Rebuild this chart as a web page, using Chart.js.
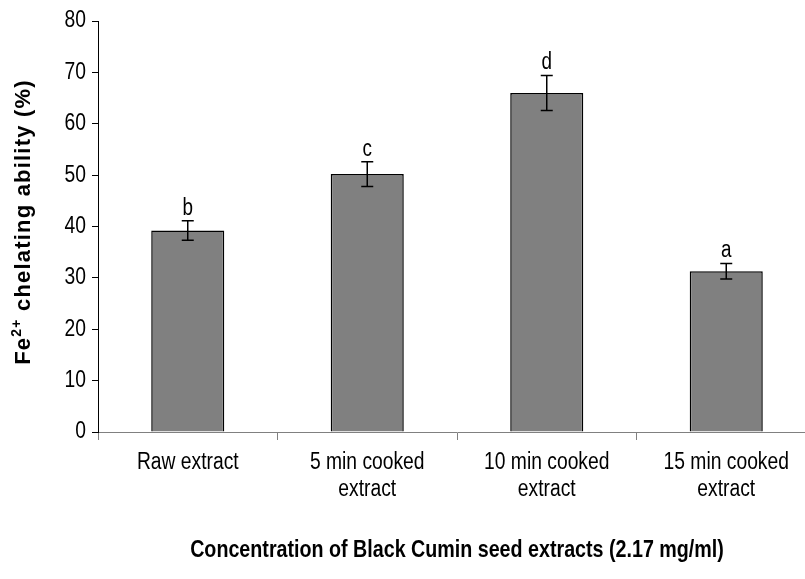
<!DOCTYPE html>
<html>
<head>
<meta charset="utf-8">
<script src="https://cdn.jsdelivr.net/npm/chart.js@4.4.0/dist/chart.umd.min.js"></script>
<style>
  html, body { margin: 0; padding: 0; background: #fff; overflow: hidden; }
  #wrap { position: relative; width: 820px; height: 579px; }
</style>
</head>
<body>
<div id="wrap"><canvas id="chart"></canvas></div>
<script>
// data
const categories = [['Raw extract'], ['5 min cooked', 'extract'], ['10 min cooked', 'extract'], ['15 min cooked', 'extract']];
const chelating = [39.2, 50.2, 66.0, 31.3];
const errors = [1.9, 2.4, 3.4, 1.5];
const letters = ['b', 'c', 'd', 'a'];
const yMin = 0, yMax = 80, yStep = 10;

const sans = "'Liberation Sans', Arial, sans-serif";
const squeeze = 0.82; // narrow look (no Arial Narrow here)

function narrowText(ctx, text, x, y, font, align, baseline) {
  ctx.save();
  ctx.font = font;
  ctx.textAlign = align;
  ctx.textBaseline = baseline;
  ctx.translate(x, y);
  ctx.scale(squeeze, 1);
  ctx.fillText(text, 0, 0);
  ctx.restore();
}

// error bars, letters, tick labels and axis titles
const extras = {
  id: 'extras',
  afterDatasetsDraw(chart) {
    const ctx = chart.ctx;
    const y = chart.scales.y;
    const meta = chart.getDatasetMeta(0);
    ctx.save();
    ctx.strokeStyle = '#000';
    ctx.lineWidth = 1.5;
    ctx.fillStyle = '#000';
    meta.data.forEach((bar, i) => {
      const top = y.getPixelForValue(chelating[i] + errors[i]);
      const bot = y.getPixelForValue(chelating[i] - errors[i]);
      ctx.beginPath();
      ctx.moveTo(bar.x, top); ctx.lineTo(bar.x, bot);
      ctx.moveTo(bar.x - 6, top); ctx.lineTo(bar.x + 6, top);
      ctx.moveTo(bar.x - 6, bot); ctx.lineTo(bar.x + 6, bot);
      ctx.stroke();
      narrowText(ctx, letters[i], bar.x, top - 6, '23px ' + sans, 'center', 'alphabetic');
    });
    ctx.restore();
  },
  afterDraw(chart) {
    const ctx = chart.ctx;
    const area = chart.chartArea;
    const xs = chart.scales.x, ys = chart.scales.y;
    ctx.save();
    ctx.fillStyle = '#000';

    // tick labels
    ys.ticks.forEach((t, i) => {
      narrowText(ctx, String(t.value), area.left - 12, ys.getPixelForTick(i), '23.5px ' + sans, 'right', 'middle');
    });
    xs.ticks.forEach((t, i) => {
      const lines = categories[i];
      lines.forEach((line, k) => {
        narrowText(ctx, line, xs.getPixelForTick(i), area.bottom + 37 + k * 27, '23.5px ' + sans, 'center', 'alphabetic');
      });
    });

    // x title
    narrowText(ctx, 'Concentration of Black Cumin seed extracts (2.17 mg/ml)', (area.left + area.right) / 2, 557,
      'bold 24px ' + sans, 'center', 'alphabetic');

    // y title, with raised "2+"
    ctx.letterSpacing = '1.2px';
    ctx.textAlign = 'left';
    ctx.textBaseline = 'alphabetic';
    const big = 'bold 22px ' + sans, small = 'bold 14px ' + sans;
    const parts = [['Fe', big, 0], ['2+', small, -9], [' chelating ability (%)', big, 0]];
    let total = 0;
    parts.forEach(p => { ctx.font = p[1]; total += ctx.measureText(p[0]).width; });
    ctx.translate(30, 222);
    ctx.rotate(-Math.PI / 2);
    let u = -total / 2;
    parts.forEach(p => {
      ctx.font = p[1];
      ctx.fillText(p[0], u, p[2]);
      u += ctx.measureText(p[0]).width;
    });
    ctx.restore();
  }
};

new Chart(document.getElementById('chart'), {
  type: 'bar',
  data: {
    labels: categories,
    datasets: [{
      data: chelating,
      backgroundColor: '#808080',
      borderColor: '#000',
      borderWidth: 1.5,
      categoryPercentage: 1,
      barPercentage: 0.407
    }]
  },
  options: {
    responsive: true,
    maintainAspectRatio: false,
    animation: false,
    events: [],
    layout: { padding: { top: 21, right: 4, left: 0, bottom: 0 } },
    plugins: { legend: { display: false }, tooltip: { enabled: false } },
    scales: {
      x: {
        afterFit(scale) { scale.height = 147; },
        border: { color: '#808080', width: 1 },
        grid: { drawOnChartArea: false, color: '#808080', tickLength: 8, offset: true },
        ticks: { color: 'rgba(0,0,0,0)', font: { family: sans, size: 20 }, padding: 10, maxRotation: 0 }
      },
      y: {
        min: yMin, max: yMax,
        afterFit(scale) { scale.width = 98; },
        border: { color: '#000', width: 1 },
        grid: { drawOnChartArea: false, color: '#000', tickLength: 6 },
        ticks: { stepSize: yStep, color: 'rgba(0,0,0,0)', font: { family: sans, size: 20 }, padding: 6 }
      }
    }
  },
  plugins: [extras]
});
</script>
</body>
</html>
